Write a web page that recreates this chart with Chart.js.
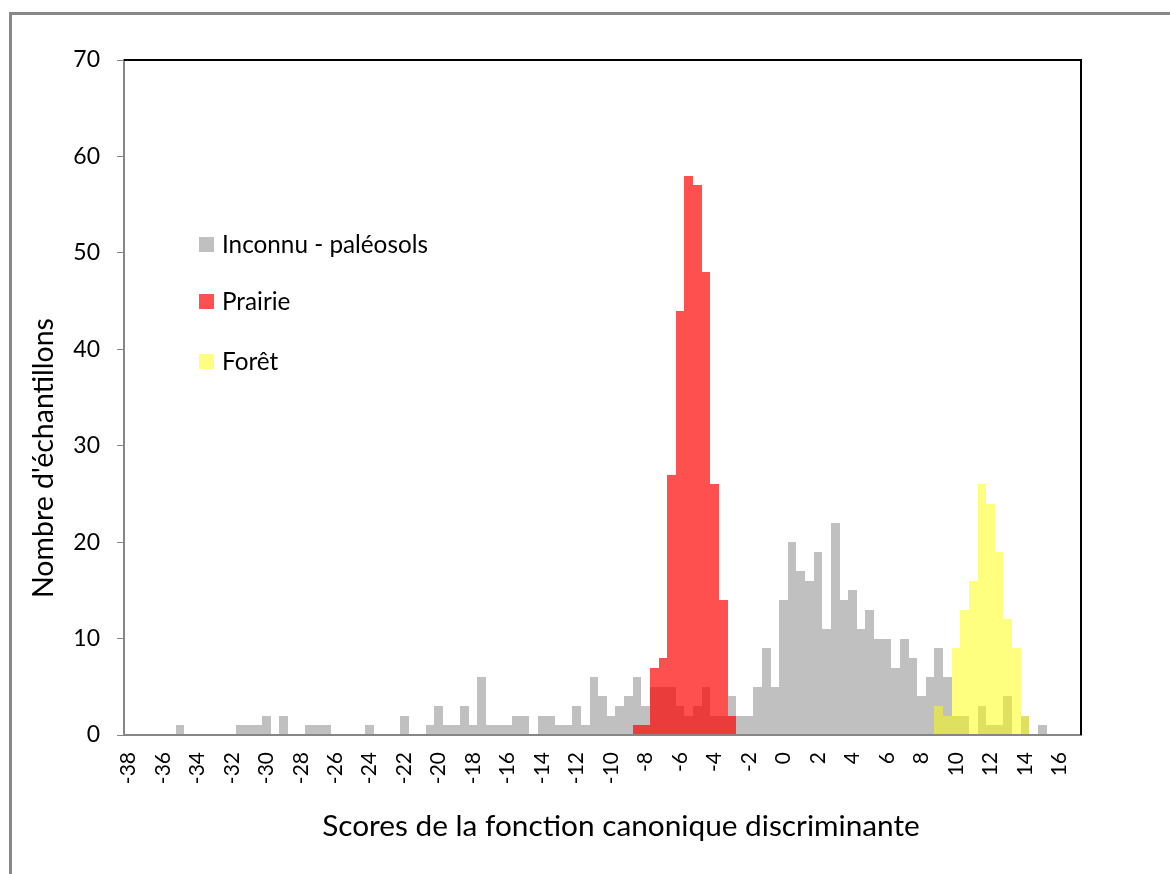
<!DOCTYPE html>
<html>
<head>
<meta charset="utf-8">
<script src="https://cdn.jsdelivr.net/npm/chart.js@4"></script>
<style>
  html, body { margin: 0; padding: 0; background: #fff; }
  canvas { display: block; }
</style>
</head>
<body>
<canvas id="c" width="1170" height="874"></canvas>
<script>
// ---- Data ----
const categories = [
  -38, -37.5, -37, -36.5, -36, -35.5, -35, -34.5, -34, -33.5,
  -33, -32.5, -32, -31.5, -31, -30.5, -30, -29.5, -29, -28.5,
  -28, -27.5, -27, -26.5, -26, -25.5, -25, -24.5, -24, -23.5,
  -23, -22.5, -22, -21.5, -21, -20.5, -20, -19.5, -19, -18.5,
  -18, -17.5, -17, -16.5, -16, -15.5, -15, -14.5, -14, -13.5,
  -13, -12.5, -12, -11.5, -11, -10.5, -10, -9.5, -9, -8.5,
  -8, -7.5, -7, -6.5, -6, -5.5, -5, -4.5, -4, -3.5,
  -3, -2.5, -2, -1.5, -1, -0.5, 0, 0.5, 1, 1.5,
  2, 2.5, 3, 3.5, 4, 4.5, 5, 5.5, 6, 6.5,
  7, 7.5, 8, 8.5, 9, 9.5, 10, 10.5, 11, 11.5,
  12, 12.5, 13, 13.5, 14, 14.5, 15, 15.5, 16, 16.5,
  17
];

const tickLabels = ["-38", "-36", "-34", "-32", "-30", "-28", "-26", "-24", "-22", "-20",
  "-18", "-16", "-14", "-12", "-10", "-8", "-6", "-4", "-2", "0",
  "2", "4", "6", "8", "10", "12", "14", "16"];

const inconnu = [
  0, 0, 0, 0, 0, 0, 1, 0, 0, 0,
  0, 0, 0, 1, 1, 1, 2, 0, 2, 0,
  0, 1, 1, 1, 0, 0, 0, 0, 1, 0,
  0, 0, 2, 0, 0, 1, 3, 1, 1, 3,
  1, 6, 1, 1, 1, 2, 2, 0, 2, 2,
  1, 1, 3, 1, 6, 4, 2, 3, 4, 6,
  3, 5, 5, 5, 3, 2, 3, 5, 2, 2,
  4, 2, 2, 5, 9, 5, 14, 20, 17, 16,
  19, 11, 22, 14, 15, 11, 13, 10, 10, 7,
  10, 8, 4, 6, 9, 6, 2, 2, 0, 3,
  1, 1, 4, 0, 2, 0, 1, 0, 0, 0,
  0
];

const prairie = [
  0, 0, 0, 0, 0, 0, 0, 0, 0, 0,
  0, 0, 0, 0, 0, 0, 0, 0, 0, 0,
  0, 0, 0, 0, 0, 0, 0, 0, 0, 0,
  0, 0, 0, 0, 0, 0, 0, 0, 0, 0,
  0, 0, 0, 0, 0, 0, 0, 0, 0, 0,
  0, 0, 0, 0, 0, 0, 0, 0, 0, 1,
  1, 7, 8, 27, 44, 58, 57, 48, 26, 14,
  2, 0, 0, 0, 0, 0, 0, 0, 0, 0,
  0, 0, 0, 0, 0, 0, 0, 0, 0, 0,
  0, 0, 0, 0, 0, 0, 0, 0, 0, 0,
  0, 0, 0, 0, 0, 0, 0, 0, 0, 0,
  0
];

const foret = [
  0, 0, 0, 0, 0, 0, 0, 0, 0, 0,
  0, 0, 0, 0, 0, 0, 0, 0, 0, 0,
  0, 0, 0, 0, 0, 0, 0, 0, 0, 0,
  0, 0, 0, 0, 0, 0, 0, 0, 0, 0,
  0, 0, 0, 0, 0, 0, 0, 0, 0, 0,
  0, 0, 0, 0, 0, 0, 0, 0, 0, 0,
  0, 0, 0, 0, 0, 0, 0, 0, 0, 0,
  0, 0, 0, 0, 0, 0, 0, 0, 0, 0,
  0, 0, 0, 0, 0, 0, 0, 0, 0, 0,
  0, 0, 0, 0, 3, 2, 9, 13, 16, 26,
  24, 19, 12, 9, 2, 0, 0, 0, 0, 0,
  0
];

const seriesNames = ["Inconnu - paléosols", "Prairie", "Forêt"];
const seriesColors = ["#C0C0C0", "rgba(255,0,0,0.686)", "rgba(255,255,0,0.5)"];
const xTitle = "Scores de la fonction canonique discriminante";
const yTitle = "Nombre d'échantillons";

// ---- helpers ----
const FONT = "Lato, 'Open Sans', sans-serif";
const noZero = arr => arr.map(v => (v === 0 ? null : v));

function fitSize(ctx, text, target) {
  ctx.font = "100px " + FONT;
  const w = ctx.measureText(text).width;
  return 100 * target / w;
}

// snap bar edges to whole pixels so adjacent translucent bars show no seams
const snapBars = {
  id: 'snapBars',
  beforeDatasetsDraw(chart) {
    chart.getSortedVisibleDatasetMetas().forEach(meta => {
      meta.data.forEach(el => {
        if (el.skip || el.y == null || isNaN(el.y)) return;
        const l = Math.round(el.x - el.width / 2);
        const r = Math.round(el.x + el.width / 2);
        el.x = (l + r) / 2;
        el.width = r - l;
        el.y = Math.round(el.y);
        el.base = Math.round(el.base);
      });
    });
  }
};

const decor = {
  id: 'decor',
  beforeDraw(chart) {
    const ctx = chart.ctx;
    ctx.save();
    ctx.fillStyle = '#ffffff';
    ctx.fillRect(0, 0, chart.width, chart.height);
    ctx.fillStyle = '#888888';
    ctx.fillRect(9, 12, 3, chart.height - 12);
    ctx.fillRect(9, 12, chart.width - 9, 3);
    ctx.restore();
  },
  afterDraw(chart) {
    const ctx = chart.ctx;
    const a = chart.chartArea;
    ctx.save();
    ctx.strokeStyle = '#000';
    ctx.lineWidth = 2;
    ctx.beginPath();
    ctx.moveTo(a.left, a.top);
    ctx.lineTo(a.right, a.top);
    ctx.lineTo(a.right, a.bottom);
    ctx.stroke();

    ctx.fillStyle = '#000';
    ctx.textBaseline = 'middle';
    ctx.textAlign = 'center';
    let s = fitSize(ctx, xTitle, 598);
    ctx.font = s + "px " + FONT;
    ctx.fillText(xTitle, 621, 826);
    s = fitSize(ctx, yTitle, 280);
    ctx.font = s + "px " + FONT;
    ctx.save();
    ctx.translate(44, 458);
    ctx.rotate(-Math.PI / 2);
    ctx.fillText(yTitle, 0, 0);
    ctx.restore();

    s = fitSize(ctx, seriesNames[0], 206);
    ctx.font = s + "px " + FONT;
    ctx.textAlign = 'left';
    const rows = [244.5, 301.5, 361];
    chart.data.datasets.forEach((ds, i) => {
      ctx.fillStyle = ds.backgroundColor;
      ctx.fillRect(199, Math.round(rows[i] - 7.5), 15, 15);
      ctx.fillStyle = '#000';
      ctx.fillText(ds.label, 222, rows[i] + 1);
    });
    ctx.restore();
  }
};

new Chart(document.getElementById('c'), {
  type: 'bar',
  data: {
    labels: categories.map(String),
    datasets: [
      { label: seriesNames[0], data: noZero(inconnu), backgroundColor: seriesColors[0], order: 2 },
      { label: seriesNames[1], data: noZero(prairie), backgroundColor: seriesColors[1], order: 1 },
      { label: seriesNames[2], data: noZero(foret), backgroundColor: seriesColors[2], order: 1 }
    ]
  },
  options: {
    responsive: false,
    animation: false,
    devicePixelRatio: 1,
    layout: { padding: { left: 10, top: 60, right: 89, bottom: 0 } },
    datasets: { bar: { grouped: false, barPercentage: 1, categoryPercentage: 1, borderWidth: 0, inflateAmount: 0 } },
    plugins: { legend: { display: false }, tooltip: { enabled: false } },
    scales: {
      x: {
        grid: { display: false, drawTicks: false },
        border: { display: true, color: '#868686', width: 2, z: 1 },
        ticks: {
          autoSkip: false, minRotation: 90, maxRotation: 90, padding: 17,
          color: '#000', font: { family: FONT, size: 21 },
          callback: function (value, index) {
            const lab = String(categories[index]);
            return tickLabels.includes(lab) ? lab : '';
          }
        },
        afterFit(sc) { sc.height = 139; sc.paddingLeft = 0; sc.paddingRight = 0; }
      },
      y: {
        min: 0, max: 70,
        grid: { drawOnChartArea: false, drawTicks: true, tickLength: 7, color: '#868686', lineWidth: 1 },
        border: { display: true, color: '#868686', width: 2 },
        ticks: { stepSize: 10, padding: 17, color: '#000', font: { family: FONT, size: 23 } },
        afterFit(sc) { sc.width = 114; sc.paddingTop = 0; sc.paddingBottom = 0; }
      }
    }
  },
  plugins: [snapBars, decor]
});
</script>
</body>
</html>
